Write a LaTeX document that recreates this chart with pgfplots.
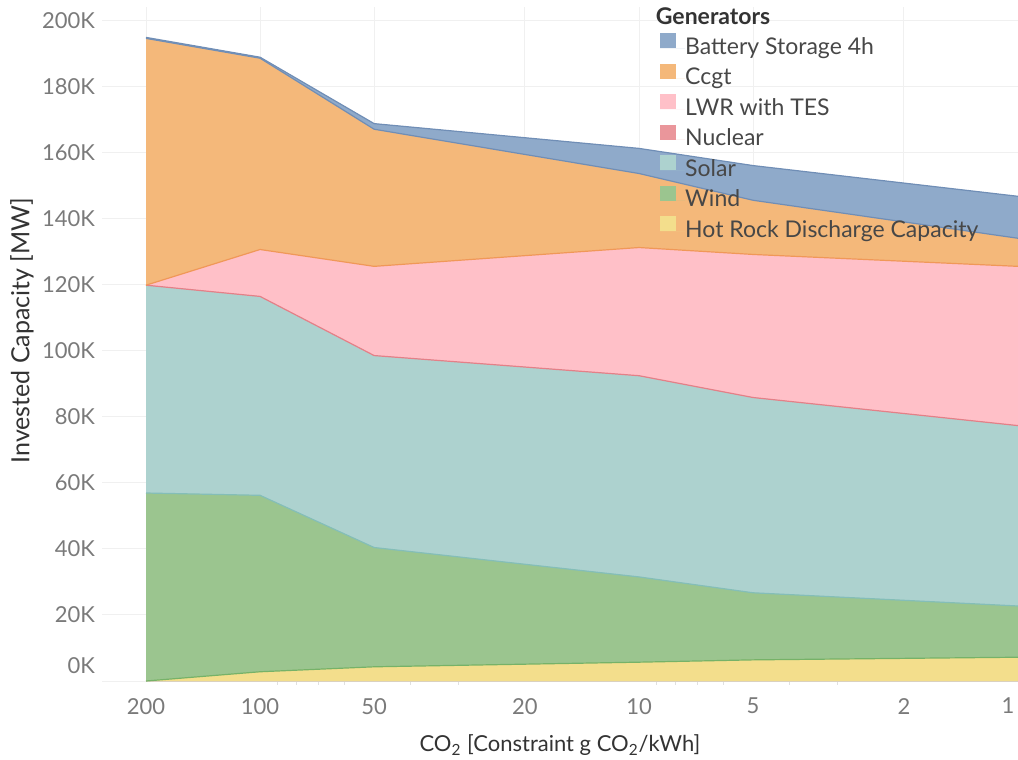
\documentclass[border=0pt]{standalone}
\usepackage{pgfplots}
\pgfplotsset{compat=1.18}
\usepackage{pgfplotstable}
\usepackage{fontspec}
\setmainfont{Lato}

% area fills
\definecolor{batfill}{RGB}{143,170,202}
\definecolor{ccgtfill}{RGB}{244,184,122}
\definecolor{lwrfill}{RGB}{255,192,200}
\definecolor{nucfill}{RGB}{234,150,155}
\definecolor{solfill}{RGB}{173,210,207}
\definecolor{windfill}{RGB}{155,197,143}
\definecolor{rockfill}{RGB}{243,222,140}
% outline colours
\definecolor{batline}{RGB}{112,142,182}
\definecolor{ccgtline}{RGB}{240,152,88}
\definecolor{nucline}{RGB}{228,128,136}
\definecolor{solline}{RGB}{132,190,184}
\definecolor{windline}{RGB}{118,178,104}
\definecolor{rockline}{RGB}{232,205,100}

% cumulative tops of the stack (MW), bottom layer first
\pgfplotstableread{
x    rock  wind  solar  nuclear lwr    ccgt   battery
200  0     56900 119800 119800  119800 194500 194800
100  2800  56200 116400 116400  130600 188500 188800
50   4300  40400 98500  98500   125500 167000 168700
10   5700  31500 92400  92400   131200 153600 161200
5    6400  26700 85800  85800   129100 145500 156000
1    7200  22700 77300  77300   125500 134000 146700
}\stacktops

\begin{document}
\begin{tikzpicture}
\begin{axis}[
  scale only axis,
  width=458pt, height=337pt,
  xmode=log, x dir=reverse,
  xmin=1, xmax=261.3,
  ymin=0, ymax=204000,
  xtick={1,2,5,10,20,50,100,200},
  xticklabels={\llap{1\,},2,5,10,20,50,100,200},
  minor xtick={3,4,6,7,8,9,30,40,60,70,80,90},
  ytick={20000,40000,...,200000},
  yticklabels={20K,40K,60K,80K,100K,120K,140K,160K,180K,200K},
  extra y ticks={0},
  extra y tick labels={0K},
  extra y tick style={yticklabel style={yshift=7.5pt}},
  scaled y ticks=false,
  grid=major,
  major grid style={draw=black!6, line width=0.5pt},
  axis line style={draw=none},
  tick pos=left,
  tick align=outside,
  major tick length=0pt,
  minor tick length=2pt,
  minor tick style={draw=black!12, line width=0.5pt},
  ticklabel style={font=\fontsize{11}{13}\selectfont, text=black!52},
  xticklabel style={yshift=-5pt},
  every axis x label/.style={at={(rel axis cs:0.5,-0.095)}, anchor=center,
    font=\fontsize{11}{13}\selectfont},
  every axis y label/.style={at={(rel axis cs:-0.0873,0.52)}, anchor=center, rotate=90,
    font=\fontsize{12.5}{15}\selectfont},
  label style={text=black!80},
  xlabel={CO\textsubscript{2} [Constraint g CO\textsubscript{2}/kWh]},
  ylabel={Invested Capacity [MW]},
  legend style={at={(rel axis cs:0.609,1)}, anchor=north west, yshift=-13pt,
    draw=none, fill=none, inner sep=0pt,
    font=\fontsize{11.5}{14}\selectfont, text=black!72,
    nodes={inner sep=0pt, text height=8.2pt, text depth=2.3pt},
    row sep=2.5pt},
  legend cell align=left,
  legend image code/.code={%
    \fill[#1] (0pt,0pt) rectangle (7.8pt,7.5pt);
    \path (0pt,0pt) -- (12.5pt,0pt);},
]
% fills, painted from the top layer down
\addplot[fill=batfill, draw=none] table[x=x, y=battery] {\stacktops} \closedcycle;
\addlegendentry{Battery Storage 4h}
\addplot[fill=ccgtfill, draw=none] table[x=x, y=ccgt] {\stacktops} \closedcycle;
\addlegendentry{Ccgt}
\addplot[fill=lwrfill, draw=none] table[x=x, y=lwr] {\stacktops} \closedcycle;
\addlegendentry{LWR with TES}
\addplot[fill=nucfill, draw=none] table[x=x, y=nuclear] {\stacktops} \closedcycle;
\addlegendentry{Nuclear}
\addplot[fill=solfill, draw=none] table[x=x, y=solar] {\stacktops} \closedcycle;
\addlegendentry{Solar}
\addplot[fill=windfill, draw=none] table[x=x, y=wind] {\stacktops} \closedcycle;
\addlegendentry{Wind}
\addplot[fill=rockfill, draw=none] table[x=x, y=rock] {\stacktops} \closedcycle;
\addlegendentry{Hot Rock Discharge Capacity}

% boundary lines between layers
\addplot[forget plot, windline, line width=0.6pt] table[x=x, y=rock] {\stacktops};
\addplot[forget plot, solline, line width=0.6pt] table[x=x, y=wind] {\stacktops};
\addplot[forget plot, nucline, line width=0.6pt] table[x=x, y=solar] {\stacktops};
\addplot[forget plot, ccgtline, line width=0.6pt] table[x=x, y=lwr] {\stacktops};
\addplot[forget plot, batline, line width=0.6pt] table[x=x, y=ccgt] {\stacktops};
\addplot[forget plot, batline, line width=0.6pt] table[x=x, y=battery] {\stacktops};

\node[anchor=base west, font=\bfseries\fontsize{11.5}{14}\selectfont, text=black!80]
  at (rel axis cs:0.597,1) [yshift=-9pt] {Generators};
\end{axis}
\pgfresetboundingbox
\path[use as bounding box]
  ([xshift=-51pt, yshift=-39pt]current axis.south west)
  rectangle ([yshift=3.5pt]current axis.north east);
\end{tikzpicture}
\end{document}
